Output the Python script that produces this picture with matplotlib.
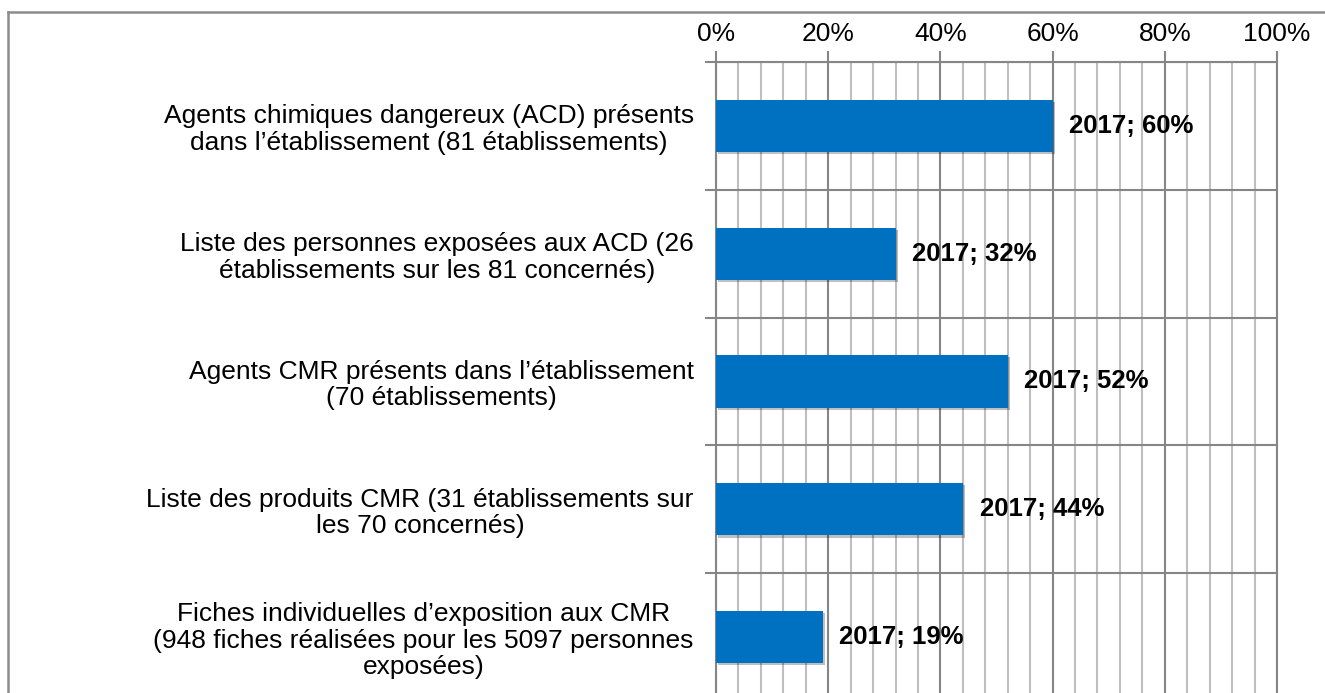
import matplotlib
matplotlib.use("Agg")
import matplotlib.pyplot as plt
import matplotlib.patheffects as pe
from matplotlib.lines import Line2D
import numpy as np

plt.rcParams['font.family'] = ['Liberation Sans', 'DejaVu Sans']

# categories, top to bottom
categories = [
    "Agents chimiques dangereux (ACD) présents\ndans l’établissement (81 établissements)",
    "Liste des personnes exposées aux ACD (26\nétablissements sur les 81 concernés)",
    "Agents CMR présents dans l’établissement\n(70 établissements)",
    "Liste des produits CMR (31 établissements sur\nles 70 concernés)",
    "Fiches individuelles d’exposition aux CMR\n(948 fiches réalisées pour les 5097 personnes\nexposées)",
]
year = "2017"
values = [60, 32, 52, 44, 19]
xticks = [0, 20, 40, 60, 80, 100]

W, H = 1325, 693
fig = plt.figure(figsize=(W / 100, H / 100), dpi=100)
# plot area runs a little past the bottom edge of the figure
ax = fig.add_axes([716 / W, -8 / H, 561 / W, (701 - 62) / H])

pos = np.arange(len(categories))
bars = ax.barh(pos, values, height=0.41, color='#0070C0', zorder=3)
for b in bars:
    b.set_path_effects([pe.SimplePatchShadow(offset=(1.5, -1.5), shadow_rgbFace='#000000', alpha=0.25),
                        pe.Normal()])

for p, v in zip(pos, values):
    ax.annotate(f"{year}; {v}%", xy=(v, p), xytext=(12, 0), textcoords='offset points',
                ha='left', va='center', fontsize=18.5, fontweight='bold', color='black', zorder=4)

ax.set_xlim(0, 100)
ax.set_ylim(len(categories) - 0.5, -0.5)

# x axis on top, major every 20 %, minor every 4 %
ax.xaxis.tick_top()
ax.set_xticks(xticks)
ax.set_xticklabels([f"{t}%" for t in xticks], fontsize=19)
ax.set_xticks(np.arange(0, 101, 4), minor=True)
ax.tick_params(axis='x', which='major', length=8, width=1.5, color='#868686', pad=3.5)
ax.tick_params(axis='x', which='minor', length=0)

# y: boundaries as major ticks, labels on the minor ticks at category centres
ax.set_yticks(np.arange(-0.5, len(categories) + 0.5, 1))
ax.set_yticklabels([])
ax.set_yticks(pos, minor=True)
ax.set_yticklabels(categories, minor=True, fontsize=19)
ax.tick_params(axis='y', which='major', length=8, width=1.5, color='#868686')
ax.tick_params(axis='y', which='minor', length=0, pad=16)
for lab in ax.get_yticklabels(minor=True):
    lab.set_multialignment('center')
    lab.set_linespacing(1.13)

ax.grid(axis='x', which='minor', color='#BFBFBF', linewidth=1.5, zorder=1)
ax.grid(axis='x', which='major', color='#868686', linewidth=1.5, zorder=2)
ax.grid(axis='y', which='major', color='#868686', linewidth=1.5, zorder=2)
ax.set_axisbelow(True)

for s in ['left', 'top', 'right']:
    ax.spines[s].set_color('#868686')
    ax.spines[s].set_linewidth(1.5)
ax.spines['bottom'].set_visible(False)

# outer frame
fig.add_artist(Line2D([8 / W, 1], [1 - 12 / H, 1 - 12 / H], color='#8C8C8C', linewidth=1.8))
fig.add_artist(Line2D([8 / W, 8 / W], [0, 1 - 12 / H], color='#8C8C8C', linewidth=1.8))

fig.savefig("out.png", dpi=100)
